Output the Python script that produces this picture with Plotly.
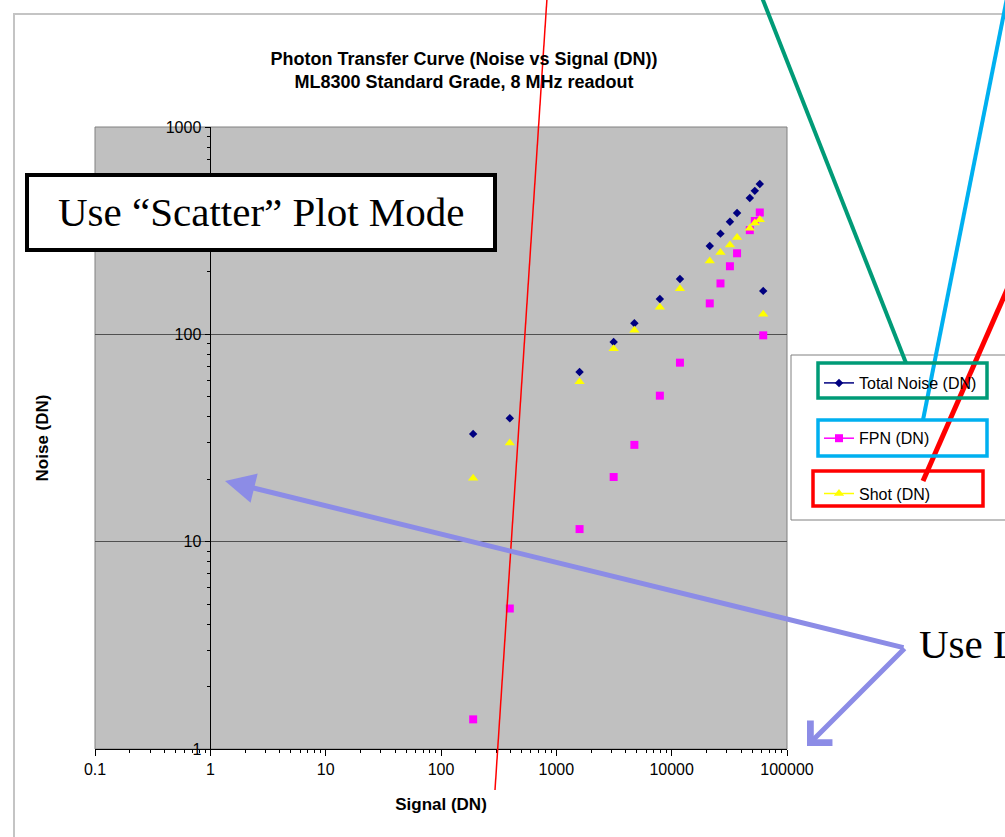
import plotly.graph_objects as go

# ---------------- data ----------------
signal_dn = [190, 395, 1590, 3140, 4750, 7900, 11800, 21400, 26500, 32000,
             36900, 47600, 52600, 58100, 62200]
total_noise_dn = [33.1, 39.4, 65.8, 91.8, 113, 148, 185, 267, 306, 349,
                  385, 454, 492, 531, 162]
fpn_dn = [1.39, 4.76, 11.5, 20.5, 29.3, 50.6, 73.0, 141, 176, 213,
          246, 318, 352, 387, 98.9]
shot_dn = [20.2, 29.9, 59.1, 85.3, 104.5, 135, 166, 226, 248, 270,
           293, 325, 344, 357, 125]

series_names = ["Total Noise (DN)", "FPN (DN)", "Shot (DN)"]

x_tick_vals = [0.1, 1, 10, 100, 1000, 10000, 100000]
x_tick_text = ["0.1", "1", "10", "100", "1000", "10000", "100000"]
y_tick_vals = [1, 10, 100, 1000]
y_tick_text = ["1", "10", "100", "1000"]
x_minor_vals = [k * 10.0 ** p for p in range(-1, 5) for k in range(2, 10)]
y_minor_vals = [k * 10.0 ** p for p in range(0, 3) for k in range(2, 10)]

chart_title = "Photon Transfer Curve (Noise vs Signal (DN))<br>ML8300 Standard Grade, 8 MHz readout"
x_title = "Signal (DN)"
y_title = "Noise (DN)"
note_scatter = "Use \u201cScatter\u201d Plot Mode"
note_log = "Use Log Scale"

# ---------------- geometry helpers (pixel -> paper) ----------------
W, H = 1005, 837
PL, PR, PT, PB = 95, 787, 127, 749


def px(x):
    return (x - PL) / (PR - PL)


def py(y):
    return (PB - y) / (PB - PT)


SANS = "Liberation Sans, Arial, sans-serif"
SERIF = "Liberation Serif, Times New Roman, serif"

styles = [
    dict(color="#000080", symbol="diamond", size=6.5),
    dict(color="#FF00FF", symbol="square", size=8),
    dict(color="#FFFF00", symbol="triangle-up", size=9),
]
values = [total_noise_dn, fpn_dn, shot_dn]

fig = go.Figure()
for name, vals, st in zip(series_names, values, styles):
    fig.add_trace(go.Scatter(
        x=signal_dn, y=vals, mode="markers", name=name, showlegend=False,
        marker=dict(color=st["color"], symbol=st["symbol"], size=st["size"],
                    line=dict(width=0)),
        legendgroup=name,
    ))
# legend entries (Excel-style line + marker symbol)
for name, st in zip(series_names, styles):
    fig.add_trace(go.Scatter(
        x=[None], y=[None], mode="lines+markers", name=name, legendgroup=name,
        line=dict(color=st["color"], width=1.5),
        marker=dict(color=st["color"], symbol=st["symbol"], size=st["size"],
                    line=dict(width=0)),
    ))

fig.update_layout(
    width=W, height=H,
    template="none",
    margin=dict(l=PL, r=W - PR, t=PT, b=H - PB, pad=0, autoexpand=False),
    paper_bgcolor="white",
    plot_bgcolor="#C0C0C0",
    font=dict(family=SANS, size=16, color="#000000"),
    title=dict(text=chart_title, x=px(464), xref="paper", xanchor="center",
               y=1 - 65 / H, yref="container", yanchor="middle",
               font=dict(family=SANS, size=18, color="#000000", weight="bold")),
    showlegend=True,
    legend=dict(x=px(819), xanchor="left", y=py(366), yanchor="top",
                bgcolor="rgba(0,0,0,0)", borderwidth=0,
                font=dict(family=SANS, size=16, color="#000000"),
                traceorder="grouped", tracegroupgap=31.5),
)

fig.update_xaxes(
    type="log", range=[-1, 5], tickmode="array",
    tickvals=x_tick_vals, ticktext=x_tick_text,
    ticks="outside", ticklen=6, tickwidth=1, tickcolor="#000000",
    showline=True, linecolor="#000000", linewidth=1,
    showgrid=False, zeroline=False, automargin=False,
    tickfont=dict(family=SANS, size=16, color="#000000"),
    minor=dict(tickmode="array", tickvals=x_minor_vals, ticks="outside",
               ticklen=3, tickcolor="#000000", showgrid=False),
    title=dict(text=x_title, standoff=20,
               font=dict(family=SANS, size=17, color="#000000", weight="bold")),
)
fig.update_yaxes(
    type="log", range=[0, 3], tickmode="array",
    tickvals=y_tick_vals, ticktext=y_tick_text,
    anchor="free", position=px(209.5),
    ticks="outside", ticklen=5, tickwidth=1, tickcolor="#000000",
    showline=True, linecolor="#000000", linewidth=1,
    showgrid=True, gridcolor="#505050", gridwidth=1,
    zeroline=False, automargin=False,
    tickfont=dict(family=SANS, size=16, color="#000000"),
    minor=dict(tickmode="array", tickvals=y_minor_vals, ticks="outside",
               ticklen=3, tickcolor="#000000", showgrid=False),
    title=dict(text=y_title, standoff=111,
               font=dict(family=SANS, size=17, color="#000000", weight="bold")),
)


def rect(x0, y0, x1, y1, color, width, fill=None, layer="above"):
    return dict(type="rect", xref="paper", yref="paper",
                x0=px(x0), x1=px(x1), y0=py(y0), y1=py(y1),
                line=dict(color=color, width=width),
                fillcolor=fill if fill else "rgba(0,0,0,0)", layer=layer)


def seg(x0, y0, x1, y1, color, width):
    return dict(type="line", xref="paper", yref="paper",
                x0=px(x0), x1=px(x1), y0=py(y0), y1=py(y1),
                line=dict(color=color, width=width), layer="above")


GREEN = "#009B77"
CYAN = "#00B0F0"
RED = "#FF0000"
PURPLE = "#8C8CE6"

shapes = [
    rect(14, 14, 1015, 850, "#C4C4C4", 2, layer="below"),           # chart frame
    rect(PL, PT, PR, PB, "#808080", 1, layer="below"),              # plot-area border
    rect(791, 355, 1015, 520, "#808080", 1, fill="white", layer="below"),  # legend box
    rect(27, 175, 495, 250, "#000000", 4, fill="white"),            # note box
    seg(547, -2, 495, 790, RED, 1.5),                               # thin red line
    seg(761, -5, 906, 363, GREEN, 4),
    seg(1007, -2, 923, 420, CYAN, 4),
    seg(1020, 260, 923, 481, RED, 5),
    rect(818, 363, 987, 398, GREEN, 3.5),
    rect(818, 420, 987, 456, CYAN, 3.5),
    rect(813, 471, 983, 506, RED, 3.5),
]
fig.update_layout(shapes=shapes)

annotations = [
    dict(text=note_scatter, xref="paper", yref="paper", x=px(261), y=py(212),
         xanchor="center", yanchor="middle", showarrow=False,
         font=dict(family=SERIF, size=41, color="#000000")),
    dict(text=note_log, xref="paper", yref="paper", x=px(917), y=py(644),
         xanchor="left", yanchor="middle", showarrow=False,
         font=dict(family=SERIF, size=41, color="#000000")),
    dict(text="", xref="paper", yref="paper", x=px(225), y=py(481),
         ax=905 - 225, ay=648 - 481, axref="pixel", ayref="pixel",
         showarrow=True, arrowhead=2, arrowsize=1.2, arrowwidth=5,
         arrowcolor=PURPLE, standoff=0),
    dict(text="", xref="paper", yref="paper", x=px(807), y=py(746),
         ax=906 - 807, ay=647 - 746, axref="pixel", ayref="pixel",
         showarrow=True, arrowhead=4, arrowsize=1.2, arrowwidth=5,
         arrowcolor=PURPLE, standoff=0),
]
fig.update_layout(annotations=annotations)

fig.write_html(
    "out.html",
    config={"displayModeBar": False},
    post_script="document.body.style.margin='0px';document.body.style.overflow='hidden';",
)
